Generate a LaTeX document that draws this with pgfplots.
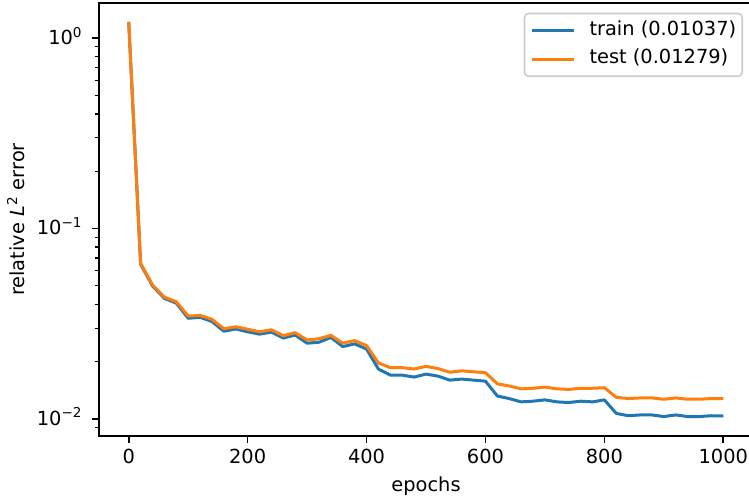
\documentclass[border=0pt]{standalone}
\usepackage{fontspec}
\setmainfont{DejaVu Sans}
\usepackage{pgfplots}
\usepackage{pgfplotstable}
\pgfplotsset{compat=1.18}
\definecolor{mplblue}{HTML}{1F77B4}
\definecolor{mplorange}{HTML}{FF7F0E}

% relative L2 error every 20 epochs
\pgfplotstableread{
epoch train test
0    1.21    1.22
20   0.0650  0.0657
40   0.0500  0.0506
60   0.0430  0.0436
80   0.0406  0.0413
100  0.0338  0.0347
120  0.0342  0.0350
140  0.0325  0.0334
160  0.0289  0.0298
180  0.0297  0.0305
200  0.0287  0.0296
220  0.0279  0.0287
240  0.0286  0.0294
260  0.0266  0.0274
280  0.0276  0.0284
300  0.0250  0.0260
320  0.0253  0.0264
340  0.0268  0.0275
360  0.0240  0.0250
380  0.0248  0.0258
400  0.0233  0.0243
420  0.0183  0.0197
440  0.0170  0.0186
460  0.0170  0.0186
480  0.0166  0.0183
500  0.0172  0.0189
520  0.0168  0.0184
540  0.0160  0.0176
560  0.0162  0.0179
580  0.0160  0.0177
600  0.0158  0.0175
620  0.0132  0.0153
640  0.0128  0.0149
660  0.0123  0.0144
680  0.0124  0.0145
700  0.0126  0.0147
720  0.0123  0.0144
740  0.0122  0.0143
760  0.0124  0.0145
780  0.0123  0.0145
800  0.0126  0.0146
820  0.0107  0.0130
840  0.0104  0.0128
860  0.0105  0.0129
880  0.0105  0.0129
900  0.0103  0.0127
920  0.0105  0.0129
940  0.0103  0.0127
960  0.0103  0.0127
980  0.0104  0.0128
1000 0.01037 0.01279
}\errors

\begin{document}
\begin{tikzpicture}[font=\fontsize{9.7}{11.6}\selectfont]
% picture is cut at the right, like the reference
\useasboundingbox (-49.5pt,-30.5pt) rectangle (325pt,218pt);
\clip (-49.5pt,-30.5pt) rectangle (325pt,218pt);
\begin{axis}[
    at={(0,0)}, anchor=south west,
    scale only axis,
    width=327pt, height=216.5pt,
    ymode=log,
    xmin=-50, xmax=1050,
    ymin=0.00814, ymax=1.53,
    xtick={0,200,...,1000},
    ytick={0.01,0.1,1},
    yticklabels={10\textsuperscript{−2},10\textsuperscript{−1},10\textsuperscript{0}},
    minor ytick={0.009,0.02,0.03,0.04,0.05,0.06,0.07,0.08,0.09,0.2,0.3,0.4,0.5,0.6,0.7,0.8,0.9},
    tick align=outside,
    tickpos=left,
    major tick length=3.5pt,
    minor tick length=2pt,
    major tick style={black, line width=0.8pt},
    minor tick style={black, line width=0.6pt},
    axis line style={line width=0.8pt},
    /pgf/number format/assume math mode=true,
    /pgf/number format/1000 sep={},
    tick label style={font=\fontsize{9.7}{11.6}\selectfont},
    xticklabel style={anchor=base, yshift=-10.5pt},
    yticklabel style={anchor=base east, inner xsep=0pt, xshift=-4.5pt, yshift=-3.1pt},
    xlabel={epochs},
    ylabel={relative {\itshape L}\textsuperscript{2} error},
    every axis x label/.style={at={(axis description cs:0.5,0)}, anchor=base, yshift=-27.5pt},
    every axis y label/.style={at={(axis description cs:-0.1139,0.5)}, rotate=90, anchor=base},
    legend cell align=left,
    legend image code/.code={\draw[#1, line width=1.5pt] (0pt,0pt) -- (21pt,0pt);},
    legend style={at={(1,1)}, anchor=north east, xshift=-5pt, yshift=-4.85pt,
        draw=black!20, line width=0.8pt, rounded corners=2pt,
        fill=white, fill opacity=0.8, text opacity=1,
        inner xsep=3pt, inner ysep=1.5pt, row sep=0pt, column sep=7pt,
        nodes={inner xsep=0pt, inner ysep=2pt, text height=7.5pt, text depth=2.7pt},
        font=\fontsize{9.7}{11.6}\selectfont},
]
\addplot[mplblue, line width=1.5pt, line join=round] table[x=epoch, y=train] {\errors};
\addlegendentry{train (0.01037)}
\addplot[mplorange, line width=1.5pt, line join=round] table[x=epoch, y=test] {\errors};
\addlegendentry{test (0.01279)}
\end{axis}
\end{tikzpicture}
\end{document}
